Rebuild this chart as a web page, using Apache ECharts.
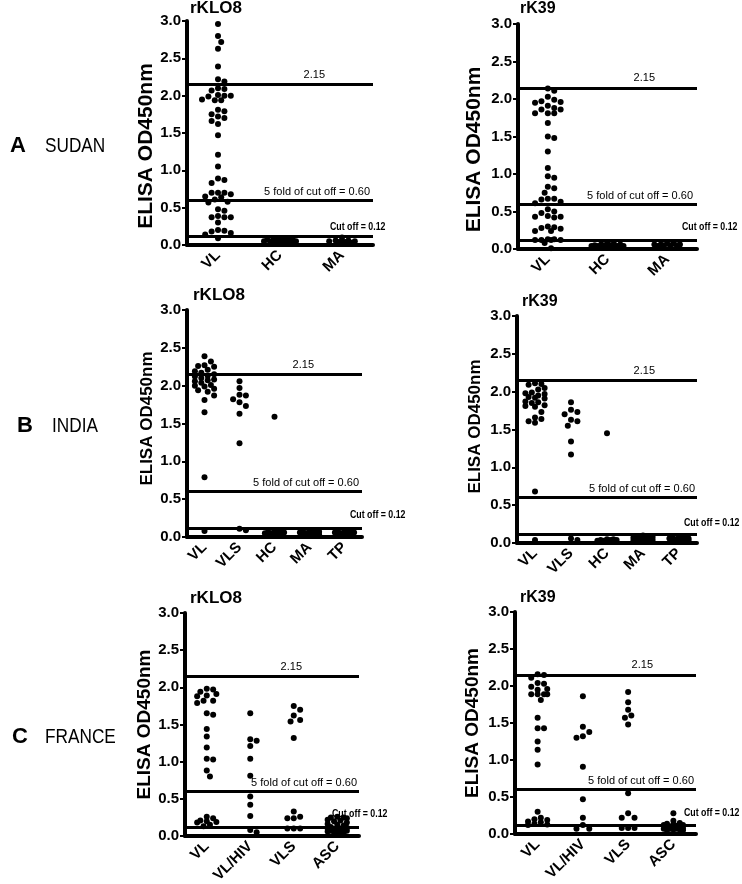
<!DOCTYPE html>
<html><head><meta charset="utf-8">
<script src="https://cdn.jsdelivr.net/npm/echarts@6/dist/echarts.min.js"></script>
<style>html,body{margin:0;padding:0;background:#fff}#c{width:742px;height:884px}</style>
</head><body><div id="c"></div>
<script>
// ---------- categories ----------
const catsSudan = ['VL', 'HC', 'MA'];
const catsIndia = ['VL', 'VLS', 'HC', 'MA', 'TP'];
const catsFrance = ['VL', 'VL/HIV', 'VLS', 'ASC'];

// ---------- reference lines ----------
const refValues = [2.15, 0.60, 0.12];
const refLabels = ['2.15', '5 fold of cut off = 0.60', 'Cut off = 0.12'];

// ---------- A SUDAN rKLO8 ----------
const sudanKLO8_VL = [2.96, 2.80, 2.72, 2.63, 2.39, 2.22, 2.19, 2.10, 2.09, 2.07, 2.01, 2.00, 2.00, 1.99, 1.95, 1.94, 1.94, 1.81, 1.79, 1.75, 1.72, 1.70, 1.66, 1.62, 1.47, 1.21, 1.05, 0.89, 0.87, 0.83, 0.70, 0.70, 0.70, 0.68, 0.65, 0.64, 0.61, 0.58, 0.57, 0.48, 0.46, 0.39, 0.37, 0.37, 0.37, 0.30, 0.20, 0.19, 0.18, 0.16, 0.14, 0.09];
const sudanKLO8_HC = [0.08, 0.08, 0.07, 0.07, 0.07, 0.06, 0.06, 0.06, 0.05, 0.05, 0.05, 0.05, 0.04, 0.04, 0.03];
const sudanKLO8_MA = [0.10, 0.06, 0.06, 0.05, 0.05, 0.05, 0.04, 0.04, 0.03];

// ---------- A SUDAN rK39 ----------
const sudanK39_VL = [2.14, 2.11, 2.03, 1.99, 1.97, 1.96, 1.95, 1.91, 1.88, 1.86, 1.86, 1.81, 1.81, 1.81, 1.68, 1.50, 1.48, 1.30, 1.08, 0.97, 0.95, 0.83, 0.81, 0.75, 0.67, 0.67, 0.66, 0.63, 0.61, 0.53, 0.50, 0.48, 0.44, 0.43, 0.43, 0.42, 0.30, 0.29, 0.28, 0.27, 0.24, 0.24, 0.13, 0.13, 0.12, 0.12, 0.12, 0.12, 0.08, 0.01];
const sudanK39_HC = [0.08, 0.07, 0.06, 0.06, 0.05, 0.05, 0.05, 0.04, 0.04, 0.04, 0.04, 0.03, 0.03, 0.03, 0.03, 0.02, 0.02, 0.02];
const sudanK39_MA = [0.07, 0.07, 0.06, 0.06, 0.06, 0.05, 0.05, 0.05, 0.04];

// ---------- B INDIA rKLO8 ----------
const indiaKLO8_VL = [2.39, 2.32, 2.27, 2.26, 2.25, 2.21, 2.19, 2.17, 2.15, 2.13, 2.12, 2.10, 2.08, 2.07, 2.06, 2.04, 2.01, 2.00, 1.99, 1.96, 1.94, 1.92, 1.87, 1.81, 1.65, 0.79, 0.08];
const indiaKLO8_VLS = [2.06, 1.97, 1.88, 1.87, 1.82, 1.78, 1.73, 1.63, 1.24, 0.11, 0.09];
const indiaKLO8_HC = [1.59, 0.08, 0.08, 0.07, 0.06, 0.06, 0.05, 0.05, 0.05, 0.04, 0.04, 0.03];
const indiaKLO8_MA = [0.09, 0.08, 0.07, 0.07, 0.06, 0.06, 0.05, 0.05, 0.04, 0.04, 0.03];
const indiaKLO8_TP = [0.08, 0.07, 0.07, 0.06, 0.06, 0.06, 0.05, 0.05, 0.04, 0.04, 0.03];

// ---------- B INDIA rK39 ----------
const indiaK39_VL = [2.11, 2.10, 2.09, 2.05, 2.03, 1.99, 1.98, 1.97, 1.95, 1.93, 1.92, 1.91, 1.87, 1.86, 1.85, 1.82, 1.81, 1.80, 1.73, 1.66, 1.64, 1.61, 1.59, 0.68, 0.04];
const indiaK39_VLS = [1.86, 1.76, 1.73, 1.70, 1.63, 1.61, 1.55, 1.34, 1.17, 0.06, 0.04];
const indiaK39_HC = [1.45, 0.05, 0.05, 0.04, 0.04, 0.04, 0.03, 0.03, 0.03, 0.02, 0.02];
const indiaK39_MA = [0.10, 0.09, 0.08, 0.08, 0.07, 0.07, 0.06, 0.06, 0.05, 0.05, 0.04, 0.04, 0.03];
const indiaK39_TP = [0.08, 0.07, 0.07, 0.06, 0.06, 0.06, 0.05, 0.05, 0.05, 0.04, 0.04, 0.03];

// ---------- C FRANCE rKLO8 ----------
const franceKLO8_VL = [1.98, 1.97, 1.94, 1.91, 1.89, 1.88, 1.82, 1.82, 1.79, 1.65, 1.63, 1.44, 1.34, 1.19, 1.04, 1.03, 0.88, 0.80, 0.26, 0.24, 0.21, 0.20, 0.19, 0.18, 0.15, 0.13];
const franceKLO8_VLHIV = [1.65, 1.30, 1.28, 1.21, 1.04, 0.81, 0.53, 0.42, 0.27, 0.08, 0.05];
const franceKLO8_VLS = [1.75, 1.70, 1.62, 1.56, 1.54, 1.32, 0.33, 0.26, 0.24, 0.24, 0.10, 0.10, 0.10];
const franceKLO8_ASC = [0.26, 0.25, 0.25, 0.24, 0.22, 0.21, 0.20, 0.18, 0.16, 0.15, 0.14, 0.12, 0.11, 0.10, 0.10, 0.09, 0.08, 0.08, 0.07, 0.07, 0.06, 0.06, 0.05, 0.05, 0.04];

// ---------- C FRANCE rK39 ----------
const franceK39_VL = [2.16, 2.15, 2.11, 2.04, 2.03, 1.99, 1.96, 1.95, 1.89, 1.89, 1.89, 1.89, 1.81, 1.57, 1.43, 1.43, 1.25, 1.14, 0.94, 0.30, 0.22, 0.20, 0.19, 0.17, 0.16, 0.14, 0.13, 0.12];
const franceK39_VLHIV = [1.86, 1.45, 1.38, 1.32, 1.30, 0.91, 0.47, 0.22, 0.12, 0.07, 0.07];
const franceK39_VLS = [1.92, 1.78, 1.68, 1.60, 1.57, 1.48, 0.55, 0.28, 0.22, 0.22, 0.08, 0.08, 0.08];
const franceK39_ASC = [0.28, 0.18, 0.15, 0.14, 0.13, 0.12, 0.12, 0.11, 0.10, 0.09, 0.08, 0.08, 0.08, 0.07, 0.07, 0.07, 0.06, 0.06, 0.05, 0.05];

// ---------- layout (styles / positions only) ----------
const FONT = "'Liberation Sans', Arial, sans-serif";

const panels = [
  { grid: {left: 187, top: 21, width: 186, height: 224}, title: 'rKLO8', tl: [190, 0, 17], cats: catsSudan,
    groups: [sudanKLO8_VL, sudanKLO8_HC, sudanKLO8_MA], half: 16, nameSize: 21, nameShift: 13, nameGap: 30,
    lab: [[48, 4], [3, 3], [43, 4]] },
  { grid: {left: 518, top: 24, width: 179, height: 225}, title: 'rK39', tl: [520, 1, 16], cats: catsSudan,
    groups: [sudanK39_VL, sudanK39_HC, sudanK39_MA], half: 16, nameSize: 21, nameShift: 13, nameGap: 33,
    lab: [[42, 4], [4, 3], [15, 8]] },
  { grid: {left: 187, top: 310, width: 175, height: 227}, title: 'rKLO8', tl: [193, 287, 17], cats: catsIndia,
    groups: [indiaKLO8_VL, indiaKLO8_VLS, indiaKLO8_HC, indiaKLO8_MA, indiaKLO8_TP], half: 10, nameSize: 17, nameShift: -5, nameGap: 30,
    lab: [[48, 4], [3, 3], [12, 7]] },
  { grid: {left: 517, top: 316, width: 180, height: 227}, title: 'rK39', tl: [522, 294, 16], cats: catsIndia,
    groups: [indiaK39_VL, indiaK39_VLS, indiaK39_HC, indiaK39_MA, indiaK39_TP], half: 10, nameSize: 17, nameShift: -3, nameGap: 33,
    lab: [[42, 4], [2, 3], [13, 5]] },
  { grid: {left: 185, top: 613, width: 174, height: 223}, title: 'rKLO8', tl: [190, 590, 17], cats: catsFrance,
    groups: [franceKLO8_VL, franceKLO8_VLHIV, franceKLO8_VLS, franceKLO8_ASC], half: 12, nameSize: 19, nameShift: 0, nameGap: 30,
    lab: [[57, 4], [2, 3], [27, 8]] },
  { grid: {left: 515, top: 612, width: 181, height: 222}, title: 'rK39', tl: [520, 590, 16], cats: catsFrance,
    groups: [franceK39_VL, franceK39_VLHIV, franceK39_VLS, franceK39_ASC], half: 12, nameSize: 19, nameShift: 0, nameGap: 33,
    lab: [[43, 4], [2, 3], [12, 7]] }
];

// beeswarm offsets computed from the values and the axis pixel scale
function swarm(vals, pxPerUnit, d, half) {
  const placed = [];
  const step = d / 2;
  const offs = [0];
  for (let k = 1; k * step <= half + 1e-6; k++) offs.push(k * step, -k * step);
  return vals.map(v => {
    const y = v * pxPerUnit;
    let best = 0, bestClear = -1;
    for (const o of offs) {
      let m = Infinity;
      for (const p of placed) { const dd = Math.hypot(p.x - o, p.y - y); if (dd < m) m = dd; }
      if (m >= d) { best = o; break; }
      if (m > bestClear) { bestClear = m; best = o; }
    }
    placed.push({x: best, y});
    return best;
  });
}

const grids = [], xAxes = [], yAxes = [], series = [], titles = [];
panels.forEach((p, i) => {
  grids.push(Object.assign({containLabel: false, outerBoundsMode: 'none'}, p.grid));
  titles.push({text: p.title, left: p.tl[0], top: p.tl[1], padding: 0,
    textStyle: {fontSize: p.tl[2], fontWeight: 'bold', color: '#000', fontFamily: FONT}});
  xAxes.push({type: 'category', gridIndex: i, data: p.cats, boundaryGap: true,
    axisLine: {lineStyle: {color: '#000', width: 4}},
    axisTick: {alignWithLabel: true, length: 5, lineStyle: {width: 3, color: '#000'}},
    axisLabel: {rotate: 45, interval: 0, color: '#000', fontWeight: 'bold', fontSize: 15, fontFamily: FONT, margin: 8},
    splitLine: {show: false}});
  const pad = p.nameShift >= 0 ? [0, 2 * p.nameShift, 0, 0] : [0, 0, 0, -2 * p.nameShift];
  yAxes.push({type: 'value', gridIndex: i, min: 0, max: 3, interval: 0.5,
    axisLine: {show: true, lineStyle: {color: '#000', width: 4}},
    axisTick: {show: true, length: 5, lineStyle: {width: 2, color: '#000'}},
    axisLabel: {formatter: v => v.toFixed(1), color: '#000', fontWeight: 'bold', fontSize: 15, fontFamily: FONT, margin: 6,
      showMinLabel: true, showMaxLabel: true},
    splitLine: {show: false},
    name: 'ELISA OD450nm', nameLocation: 'middle', nameGap: p.nameGap,
    nameTextStyle: {fontWeight: 'bold', fontSize: p.nameSize, color: '#000', fontFamily: FONT, padding: pad}});
  const pxPerUnit = p.grid.height / 3;
  const data = [];
  p.groups.forEach((vals, ci) => {
    const offs = swarm(vals, pxPerUnit, 6.4, p.half);
    vals.forEach((v, k) => data.push({value: [ci, v], symbolOffset: [offs[k], 0]}));
  });
  series.push({type: 'scatter', xAxisIndex: i, yAxisIndex: i, symbol: 'circle', symbolSize: 6,
    itemStyle: {color: '#000', opacity: 1}, data, silent: true, animation: false, z: 3,
    markLine: {silent: true, symbol: 'none', animation: false,
      lineStyle: {color: '#000', width: 3, type: 'solid'},
      emphasis: {disabled: true},
      data: refValues.map((v, k) => ({yAxis: v,
        label: {show: k < 2, position: 'insideEndTop', formatter: refLabels[k], distance: p.lab[k],
          color: '#000', fontSize: 11, fontFamily: FONT, align: 'right'}}))}});
});

const rowLabels = [
  {letter: 'A', word: 'SUDAN', lx: 10, wx: 45, y: 146},
  {letter: 'B', word: 'INDIA', lx: 17, wx: 52, y: 426},
  {letter: 'C', word: 'FRANCE', lx: 12, wx: 45, y: 737}
];
const graphic = [];
rowLabels.forEach(r => {
  graphic.push({type: 'text', x: r.lx, y: r.y, style: {text: r.letter, fontSize: 22, fontWeight: 'bold', fontFamily: FONT, fill: '#000', verticalAlign: 'middle'}});
  graphic.push({type: 'text', x: r.wx, y: r.y, scaleX: 0.82, style: {text: r.word, fontSize: 21, fontFamily: FONT, fill: '#000', verticalAlign: 'middle'}});
});

const chart = echarts.init(document.getElementById('c'), null, {renderer: 'canvas'});
chart.setOption({
  backgroundColor: '#fff', animation: false,
  textStyle: {fontFamily: FONT},
  title: titles, grid: grids, xAxis: xAxes, yAxis: yAxes, series, graphic
});

// "Cut off = 0.12" labels: condensed bold text placed from the axis scales
panels.forEach((p, i) => {
  const yPix = chart.convertToPixel({yAxisIndex: i}, refValues[2]);
  const xEnd = p.grid.left + p.grid.width;
  graphic.push({type: 'text', x: xEnd - p.lab[2][0], y: yPix - p.lab[2][1], scaleX: 0.8,
    style: {text: refLabels[2], fontSize: 11, fontWeight: 'bold', fontFamily: FONT, fill: '#000', verticalAlign: 'bottom'}});
});
chart.setOption({graphic});
</script></body></html>
